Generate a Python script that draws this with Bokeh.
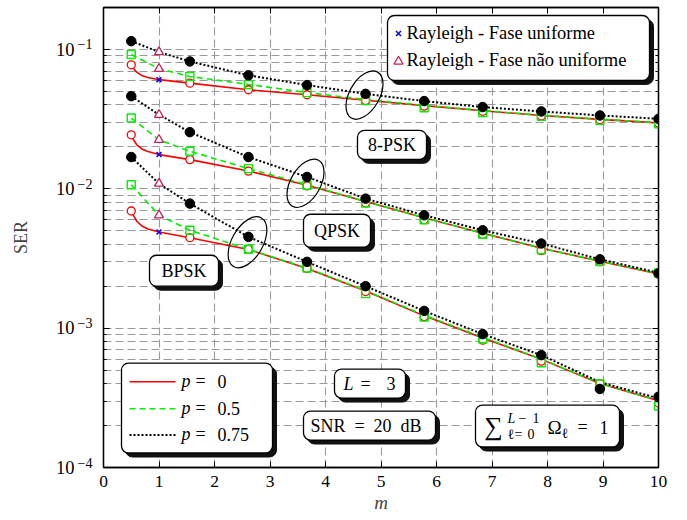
import math
from bokeh.plotting import figure
from bokeh.models import (Range1d, LinearAxis, LogAxis, FixedTicker, LogScale,
                          CustomJSTickFormatter, BoxAnnotation, Label)
from bokeh.embed import file_html
from bokeh.resources import INLINE

# ---------------- data ----------------
x_ticks = [0, 1, 2, 3, 4, 5, 6, 7, 8, 9, 10]
y_ticks = [1e-4, 1e-3, 1e-2, 1e-1]

m_sim = [0.5, 1.556, 2.611, 3.667, 4.722, 5.778, 6.833, 7.889, 8.944, 10.0]
m_ray = [1.0, 1.0, 1.0]

m_curve_p0 = [0.5, 0.55, 0.6, 0.7, 0.8, 1.0, 1.556, 2.611, 3.667, 4.722,
              5.778, 6.833, 7.889, 8.944, 10.0]
m_curve = [0.5, 1.0, 1.556, 2.611, 3.667, 4.722, 5.778, 6.833, 7.889, 8.944, 10.0]

# 8-PSK
psk8_p0_curve = [0.0776, 0.0722, 0.0687, 0.0647, 0.0629, 0.0607, 0.0573, 0.0514,
                 0.0473, 0.0432, 0.0395, 0.0363, 0.0336, 0.0315, 0.0297]
psk8_p05_curve = [0.092, 0.0727, 0.064, 0.0561, 0.049, 0.0437, 0.0397, 0.0365,
                  0.0337, 0.0316, 0.0298]
psk8_p075_curve = [0.1147, 0.096, 0.082, 0.0652, 0.0555, 0.048, 0.0426, 0.0386,
                   0.0359, 0.0336, 0.0318]
psk8_p0_sim = [0.0776, 0.0573, 0.0514, 0.0473, 0.0430, 0.0392, 0.0360, 0.0333, 0.0313, 0.0296]
psk8_p05_sim = [0.092, 0.064, 0.0561, 0.049, 0.0430, 0.0382, 0.0353, 0.0331, 0.0310, 0.0293]
psk8_p075_sim = [0.1147, 0.082, 0.0652, 0.0555, 0.048, 0.0426, 0.0386, 0.0359, 0.0336, 0.0318]

# QPSK
qpsk_p0_curve = [0.0244, 0.0222, 0.0207, 0.0192, 0.0185, 0.0176, 0.0162, 0.0134,
                 0.0106, 0.0081, 0.0062, 0.0048, 0.00375, 0.00302, 0.00245]
qpsk_p05_curve = [0.0322, 0.0225, 0.0186, 0.01396, 0.0107, 0.0081, 0.0062, 0.0048,
                  0.00375, 0.00303, 0.00246]
qpsk_p075_curve = [0.0462, 0.034, 0.0255, 0.0169, 0.01216, 0.0085, 0.00646, 0.00504,
                   0.00405, 0.00312, 0.0025]
qpsk_p0_sim = [0.0244, 0.0162, 0.0134, 0.0105, 0.0079, 0.0060, 0.0047, 0.0036, 0.0030, 0.0025]
qpsk_p05_sim = [0.0322, 0.0186, 0.01396, 0.0106, 0.0079, 0.0060, 0.00472, 0.00365, 0.0030, 0.00249]
qpsk_p075_sim = [0.0462, 0.0255, 0.0169, 0.01216, 0.0085, 0.00646, 0.00504, 0.00405, 0.00312, 0.00247]

# BPSK
bpsk_p0_curve = [0.00693, 0.00635, 0.00585, 0.00538, 0.00515, 0.0049, 0.00446, 0.00367,
                 0.00268, 0.00185, 0.001225, 0.000851, 0.000597, 0.000401, 0.000301]
bpsk_p05_curve = [0.0107, 0.00646, 0.00504, 0.00368, 0.0027, 0.00186, 0.00124, 0.00086,
                  0.0006, 0.000403, 0.000303]
bpsk_p075_curve = [0.0169, 0.0109, 0.00783, 0.00452, 0.00299, 0.0020, 0.00133, 0.000906,
                   0.00064, 0.00041, 0.000313]
bpsk_p0_sim = [0.00693, 0.00446, 0.00367, 0.00268, 0.00183, 0.00121, 0.00082, 0.00058, 0.00040, 0.00029]
bpsk_p05_sim = [0.0107, 0.00504, 0.00368, 0.0027, 0.00177, 0.0012, 0.00084, 0.000564, 0.000397, 0.000276]
bpsk_p075_sim = [0.0169, 0.00783, 0.00452, 0.00299, 0.0020, 0.00133, 0.000906, 0.00064, 0.000366, 0.000322]

# Rayleigh (m = 1) simulation points: 8-PSK, QPSK, BPSK
ray_uniform = [0.0607, 0.0176, 0.0049]
ray_nonuni_p05 = [0.0727, 0.0225, 0.00646]
ray_nonuni_p075 = [0.0957, 0.034, 0.0109]

# ---------------- styles ----------------
FONT = "Liberation Serif"
RED, GREEN, BLACK, BLUE, TRI = "#FF0000", "#00EE00", "#000000", "#0000FF", "#C41E5A"
GRID = "#9A9A9A"
DOT = "2 2"
Y_LO, Y_HI = 1e-4, 0.2
PX_PER_DECADE = 139.5

p = figure(width=680, height=520, x_range=Range1d(0, 10), y_range=Range1d(Y_LO, Y_HI),
           y_axis_type="log", output_backend="svg", toolbar_location=None,
           min_border_left=103, min_border_right=22, min_border_top=7, min_border_bottom=53)
p.outline_line_color = "black"
p.outline_line_width = 1.3
p.background_fill_color = "white"

xb = p.below[0]
yl = p.left[0]

blank = CustomJSTickFormatter(code="return '';")
minor_y = [k * t for t in y_ticks for k in range(2, 10)]

xb.ticker = FixedTicker(ticks=x_ticks)
yl.ticker = FixedTicker(ticks=y_ticks, minor_ticks=minor_y)
yl.formatter = blank

top = LinearAxis(ticker=FixedTicker(ticks=x_ticks), formatter=blank)
right = LogAxis(ticker=FixedTicker(ticks=y_ticks, minor_ticks=minor_y), formatter=blank)
p.add_layout(top, "above")
p.add_layout(right, "right")

for ax in [xb, yl, top, right]:
    ax.major_tick_in = 6
    ax.major_tick_out = 0
    ax.minor_tick_in = 3
    ax.minor_tick_out = 0
    ax.axis_line_color = "black"
    ax.axis_line_width = 1.3
    ax.major_tick_line_color = "black"
    ax.minor_tick_line_color = "black"
    ax.major_label_text_font = FONT
    ax.major_label_text_font_size = "17.5px"
    ax.major_label_text_color = "black"
for ax in [top, right, yl]:
    ax.major_label_standoff = 0
    ax.major_label_text_font_size = "1px"
xb.minor_tick_line_color = None
top.minor_tick_line_color = None

xb.major_label_standoff = 8
xb.axis_label = "m"
xb.axis_label_text_font = FONT
xb.axis_label_text_font_style = "italic"
xb.axis_label_text_font_size = "19px"
xb.axis_label_standoff = 2


# y tick labels: "10" and a raised exponent, drawn by two label-only axes
# whose ranges are shifted by a few pixels (so the exponent sits higher)
def shifted(px_up):
    f = 10 ** (-px_up / PX_PER_DECADE)
    return Range1d(Y_LO * f, Y_HI * f)


p.extra_y_ranges = {"exp": shifted(5), "ten": shifted(0.3)}
p.extra_y_scales = {"exp": LogScale(), "ten": LogScale()}
exp_axis = LogAxis(y_range_name="exp", ticker=FixedTicker(ticks=y_ticks, minor_ticks=[]),
                   formatter=CustomJSTickFormatter(
                       code="return '\u2212' + String(-Math.round(Math.log10(tick)));"))
ten_axis = LogAxis(y_range_name="ten", ticker=FixedTicker(ticks=y_ticks, minor_ticks=[]),
                   formatter=CustomJSTickFormatter(code="return '10';"))
for ax, size, standoff in [(exp_axis, "14px", 11), (ten_axis, "18.5px", 0)]:
    ax.axis_line_color = None
    ax.major_tick_line_color = None
    ax.minor_tick_line_color = None
    ax.major_tick_in = 0
    ax.major_tick_out = 0
    ax.minor_tick_in = 0
    ax.minor_tick_out = 0
    ax.major_label_standoff = standoff
    ax.major_label_text_font = FONT
    ax.major_label_text_font_size = size
    ax.major_label_text_color = "black"
p.add_layout(exp_axis, "left")
p.add_layout(ten_axis, "left")
ten_axis.axis_label = "SER"
ten_axis.axis_label_text_font = FONT
ten_axis.axis_label_text_font_style = "normal"
ten_axis.axis_label_text_font_size = "18px"
ten_axis.axis_label_standoff = 22

p.xgrid.grid_line_color = GRID
p.xgrid.grid_line_dash = "8 4"
p.xgrid.grid_line_width = 1.1
p.ygrid.grid_line_color = GRID
p.ygrid.grid_line_dash = "8 4"
p.ygrid.grid_line_width = 1.1
p.ygrid.minor_grid_line_color = GRID
p.ygrid.minor_grid_line_dash = "8 4"
p.ygrid.minor_grid_line_width = 1.1


# ---------------- helpers: reference-pixel placement of annotations ----------------
def X(px):
    return (px - 103) / 55.5


def Y(py):
    return 10 ** (-1 - (py - 49) / PX_PER_DECADE)


def box(l, t, r, b, sh=4, rad=7):
    p.add_layout(BoxAnnotation(left=X(l + sh), right=X(r + sh), top=Y(t + sh), bottom=Y(b + sh),
                               fill_color="#111111", fill_alpha=1, line_color="#111111",
                               line_alpha=1, border_radius=rad, level="underlay"))
    p.add_layout(BoxAnnotation(left=X(l), right=X(r), top=Y(t), bottom=Y(b),
                               fill_color="white", fill_alpha=1, line_color="black",
                               line_alpha=1, line_width=1.3, border_radius=rad, level="underlay"))


def txt(px, py, s, size="18px", style="normal", align="left", **kw):
    p.add_layout(Label(x=X(px), y=Y(py), text=s, text_font=FONT, text_font_size=size,
                       text_font_style=style, text_align=align, text_baseline="middle",
                       text_color="black", **kw))


# ---------------- curves ----------------
groups = [
    (psk8_p0_curve, psk8_p05_curve, psk8_p075_curve, psk8_p0_sim, psk8_p05_sim, psk8_p075_sim),
    (qpsk_p0_curve, qpsk_p05_curve, qpsk_p075_curve, qpsk_p0_sim, qpsk_p05_sim, qpsk_p075_sim),
    (bpsk_p0_curve, bpsk_p05_curve, bpsk_p075_curve, bpsk_p0_sim, bpsk_p05_sim, bpsk_p075_sim),
]
for c0, c5, c75, s0, s5, s75 in groups:
    p.line(m_curve_p0, c0, line_color=RED, line_width=1.6)
    p.line(m_curve, c5, line_color=GREEN, line_width=1.6, line_dash="6 4")
    p.line(m_curve, c75, line_color=BLACK, line_width=2, line_dash=DOT)
for c0, c5, c75, s0, s5, s75 in groups:
    p.scatter(m_sim, s0, marker="circle", size=8, fill_color="white", line_color=RED, line_width=1.3)
    p.scatter(m_sim, s5, marker="square", size=8, fill_color=None, line_color=GREEN, line_width=1.4)
    p.scatter(m_sim, s75, marker="circle", size=9.5, fill_color=BLACK, line_color=BLACK)

p.scatter(m_ray, ray_uniform, marker="x", size=7, line_color=BLUE, line_width=1.5)
p.scatter(m_ray, ray_nonuni_p05, marker="triangle", size=9, fill_color="white", line_color=TRI, line_width=1.3)
p.scatter(m_ray, ray_nonuni_p075, marker="triangle", size=9, fill_color="white", line_color=TRI, line_width=1.3)

# ellipses grouping the curves
p.ellipse(x=[X(247), X(305), X(364)], y=[Y(242), Y(183), Y(94.7)], width=[31, 30, 30],
          height=[56, 53, 53], angle=-0.52, width_units="screen", height_units="screen",
          fill_color=None, line_color="black", line_width=1.2)

# ---------------- legends and text boxes ----------------
box(387, 15, 649, 80)
p.scatter([X(398)], [Y(33)], marker="x", size=7, line_color=BLUE, line_width=1.5)
p.scatter([X(398)], [Y(61)], marker="triangle", size=9, fill_color="white", line_color=TRI, line_width=1.3)
txt(406, 33, "Rayleigh - Fase uniforme", size="18.5px")
txt(406, 60, "Rayleigh - Fase n\u00e3o uniforme", size="18.5px")

box(121, 363, 272, 453)
p.line([X(129), X(175)], [Y(381.7), Y(381.7)], line_color=RED, line_width=1.6)
p.line([X(129), X(175)], [Y(408.7), Y(408.7)], line_color=GREEN, line_width=1.6, line_dash="6 4")
p.line([X(129), X(175)], [Y(435), Y(435)], line_color=BLACK, line_width=2, line_dash=DOT)
for yy, v in [(381, "0"), (408, "0.5"), (434, "0.75")]:
    txt(181, yy, "p", style="italic")
    txt(195, yy, "=")
    txt(217, yy, v)

box(357, 130, 426, 159)
txt(391.5, 145, "8-PSK", align="center")
box(303, 214, 370, 247)
txt(336.5, 230.5, "QPSK", align="center")
box(149, 255, 218, 286)
txt(183.5, 270.5, "BPSK", align="center")

box(334, 369, 405, 398)
txt(343, 383.5, "L", style="italic")
txt(360, 383.5, "=")
txt(386, 383.5, "3")

box(303, 411, 435, 440)
txt(310, 425.5, "SNR")
txt(354, 425.5, "=")
txt(373, 425.5, "20")
txt(400, 425.5, "dB")

box(475, 405, 619, 447)
txt(493, 426, "\u2211", size="26px", align="center")
txt(507, 418, "L", size="14px", style="italic")
txt(518, 418, "\u2212", size="14px")
txt(532, 418, "1", size="14px")
txt(507, 434, "\u2113", size="14px")
txt(514, 434, "=", size="14px")
txt(527, 434, "0", size="14px")
txt(547, 427, "\u03a9", size="19px")
txt(561, 433, "\u2113", size="14px")
txt(577, 427, "=")
txt(599, 427, "1")

with open("out.html", "w", encoding="utf-8") as f:
    f.write(file_html(p, INLINE))
